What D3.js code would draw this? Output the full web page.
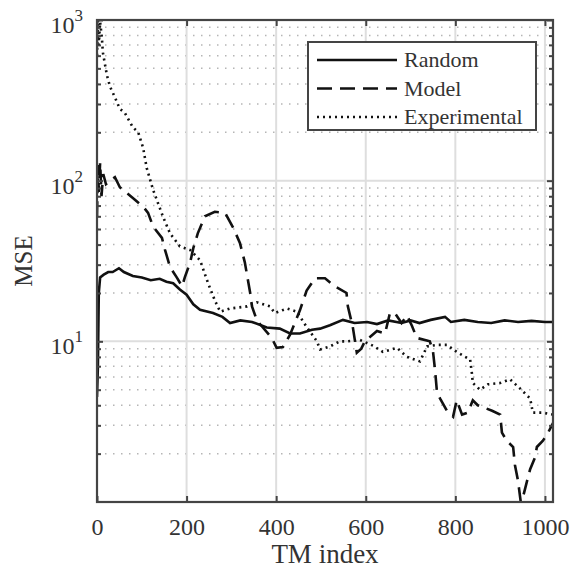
<!DOCTYPE html>
<html>
<head>
<meta charset="utf-8">
<script src="https://cdn.jsdelivr.net/npm/d3@7"></script>
<style>
  body { margin: 0; background: #fff; }
  svg text { font-family: "Liberation Serif", "Times New Roman", serif !important; fill: #333; }
</style>
</head>
<body>
<div id="chart"></div>
<script>
// MSE per TM index
var randomData = [[0,4.5],[2,7],[4,20],[7,25],[15,26],[25,27],[35,27],[49,28.5],[60,27],[80,25.5],[100,25],
  [120,24],[140,24.5],[155,23.5],[170,23],[185,21],[200,19.5],[215,17],[230,15.7],[259,15],[280,14.2],
  [297,13],[320,13.5],[346,13.2],[379,12.2],[408,12],[431,11.2],[453,11.2],[480,11.8],[498,12],[520,12.6],
  [549,13.6],[575,13],[603,13.2],[625,12.8],[650,13.5],[680,13],[700,13.5],[720,13],[745,13.6],[777,14.2],
  [790,13.2],[820,13.6],[850,13.2],[880,13],[910,13.5],[940,13.2],[970,13.4],[1000,13.2],[1018,13.2]];

var modelData = [[0,60],[2,125],[4,85],[7,130],[10,80],[14,110],[20,95],[29,100],[40,105],[51,91],[80,78],
  [103,69],[114,63],[125,52],[145,44],[152,37],[163,29],[178,25],[190,22],[196,25],[208,31],[215,38],
  [225,47],[241,60],[263,64],[286,63],[304,51],[319,41],[330,31],[342,20],[346,16.5],[357,13.5],[390,10.5],
  [401,9.1],[415,9.2],[431,11],[453,15.6],[468,20.7],[487,24.7],[509,24.7],[531,22],[557,20],[560,16.5],
  [571,12.3],[580,8.5],[590,9],[598,10],[625,11.6],[643,11.2],[654,15],[665,15],[680,13],[692,14.5],
  [703,12.5],[714,10.5],[743,10],[750,8.7],[755,6.5],[759,4.8],[766,4.4],[781,3.7],[795,3.4],[803,4.3],
  [815,3.5],[828,3.6],[839,4.3],[850,4],[882,3.7],[900,3.5],[904,2.7],[915,2.4],[929,2.2],[933,1.7],
  [940,1.35],[946,1.0],[952,1.1],[960,1.35],[967,1.6],[978,1.9],[982,2.2],[995,2.4],[1004,2.6],[1018,3.1]];

var experimentalData = [[0,600],[2,1000],[4,700],[7,970],[11,770],[13,630],[22,455],[29,385],[40,330],
  [51,280],[62,265],[80,215],[92,200],[103,160],[111,120],[125,88],[147,60],[163,47],[185,39],[208,37],
  [230,32],[248,23],[263,18],[275,15.3],[297,16],[335,16.5],[357,17.5],[386,16.5],[397,15],[424,16],
  [446,15.3],[468,12.3],[491,10],[498,8.9],[520,9.3],[542,10],[558,10],[587,10.2],[616,9.4],[638,8.6],
  [670,9.1],[692,8.0],[721,7.5],[737,9.3],[759,9.5],[781,9.5],[803,8.6],[833,7.7],[837,6.3],[839,5.5],
  [855,5.0],[873,5.4],[900,5.5],[922,5.8],[944,5.1],[967,4.4],[973,3.6],[995,3.6],[1018,3.5]];

var seriesNames = ["Random", "Model", "Experimental"];
var xTicks = [0, 200, 400, 600, 800, 1000];
var yTicks = [10, 100, 1000];

var width = 571, height = 572;
var margin = {top: 20, right: 18, bottom: 70, left: 97};

var svg = d3.select("#chart").append("svg")
    .attr("width", width)
    .attr("height", height);

var x = d3.scaleLinear().domain([0, 1018]).range([margin.left, width - margin.right]);
var y = d3.scaleLog().domain([1, 1000]).range([height - margin.bottom, margin.top]);

var plotL = x.range()[0], plotR = x.range()[1], plotT = y.range()[1], plotB = y.range()[0];

// minor grid on the log axis
var minors = [];
[1, 10, 100].forEach(function(d){
  for (var k = 2; k <= 9; k++) minors.push(d * k);
});

svg.append("g").selectAll("line")
  .data(minors).enter().append("line")
    .attr("x1", plotL).attr("x2", plotR)
    .attr("y1", function(d){ return y(d); })
    .attr("y2", function(d){ return y(d); })
    .attr("stroke", "#b5b5b5")
    .attr("stroke-width", 1.5)
    .attr("stroke-dasharray", "1.5,6.5");

// major grid
svg.append("g").selectAll("line")
  .data(xTicks.filter(function(d){ return d > 0; })).enter().append("line")
    .attr("x1", function(d){ return x(d); })
    .attr("x2", function(d){ return x(d); })
    .attr("y1", plotT).attr("y2", plotB)
    .attr("stroke", "#dedede")
    .attr("stroke-width", 2);

svg.append("g").selectAll("line")
  .data([10, 100]).enter().append("line")
    .attr("x1", plotL).attr("x2", plotR)
    .attr("y1", function(d){ return y(d); })
    .attr("y2", function(d){ return y(d); })
    .attr("stroke", "#dedede")
    .attr("stroke-width", 2);

// series lines
var line = d3.line()
    .x(function(d){ return x(d[0]); })
    .y(function(d){ return y(d[1]); });

var styles = [
  {data: randomData, dash: null},
  {data: modelData, dash: "15,8"},
  {data: experimentalData, dash: "2,4"}
];

svg.append("clipPath").attr("id", "clip")
  .append("rect")
    .attr("x", plotL).attr("y", plotT)
    .attr("width", plotR - plotL).attr("height", plotB - plotT);

styles.forEach(function(s){
  svg.append("path")
    .datum(s.data)
    .attr("clip-path", "url(#clip)")
    .attr("d", line)
    .attr("fill", "none")
    .attr("stroke", "#111")
    .attr("stroke-width", 2.6)
    .attr("stroke-dasharray", s.dash);
});

// axes: ticks inside
var axisColor = "#444";

var xBottom = svg.append("g")
    .attr("transform", "translate(0," + plotB + ")")
    .call(d3.axisBottom(x).tickValues(xTicks).tickSize(-6).tickPadding(16).tickFormat(d3.format("d")));
svg.append("g")
    .attr("transform", "translate(0," + plotT + ")")
    .call(d3.axisTop(x).tickValues(xTicks).tickSize(-6).tickFormat(""));
svg.append("g")
    .attr("transform", "translate(" + plotL + ",0)")
    .call(d3.axisLeft(y).tickValues(yTicks).tickSize(-6).tickFormat(""));
svg.append("g")
    .attr("transform", "translate(" + plotR + ",0)")
    .call(d3.axisRight(y).tickValues(yTicks).tickSize(-6).tickFormat(""));

// minor ticks left and right
svg.append("g")
    .attr("transform", "translate(" + plotL + ",0)")
    .call(d3.axisLeft(y).tickValues(minors).tickSize(-4).tickFormat(""));
svg.append("g")
    .attr("transform", "translate(" + plotR + ",0)")
    .call(d3.axisRight(y).tickValues(minors).tickSize(-4).tickFormat(""));

svg.selectAll(".domain").remove();
svg.selectAll(".tick line").attr("stroke", axisColor).attr("stroke-width", 2);

xBottom.selectAll("text")
    .style("font-size", "24px")
    .attr("fill", "#333");

// box
svg.append("rect")
    .attr("x", plotL).attr("y", plotT)
    .attr("width", plotR - plotL).attr("height", plotB - plotT)
    .attr("fill", "none")
    .attr("stroke", axisColor)
    .attr("stroke-width", 2.2);

// y tick labels 10^n
var yLab = svg.append("g").selectAll("text")
  .data(yTicks).enter().append("text")
    .attr("x", plotL - 14)
    .attr("y", function(d){ return y(d) + 13; })
    .attr("text-anchor", "end")
    .attr("font-size", 24);
yLab.append("tspan").text("10");
yLab.append("tspan")
    .attr("dy", -12)
    .attr("font-size", 17)
    .text(function(d){ return Math.round(Math.log10(d)); });

// axis titles
svg.append("text")
    .attr("x", (plotL + plotR) / 2)
    .attr("y", 563)
    .attr("text-anchor", "middle")
    .attr("font-size", 27)
    .text("TM index");

svg.append("text")
    .attr("transform", "translate(32," + ((plotT + plotB) / 2) + ") rotate(-90)")
    .attr("text-anchor", "middle")
    .attr("font-size", 25)
    .text("MSE");

// legend
var legend = svg.append("g");
legend.append("rect")
    .attr("x", 308).attr("y", 42)
    .attr("width", 228).attr("height", 88)
    .attr("fill", "#fff")
    .attr("stroke", axisColor)
    .attr("stroke-width", 2);

seriesNames.forEach(function(name, i){
  var ly = 60 + i * 28.5;
  legend.append("line")
    .attr("x1", 317).attr("x2", 397)
    .attr("y1", ly).attr("y2", ly)
    .attr("stroke", "#111")
    .attr("stroke-width", 2.6)
    .attr("stroke-dasharray", styles[i].dash);
  legend.append("text")
    .attr("x", 404)
    .attr("y", ly + 7)
    .attr("font-size", 22)
    .attr("fill", "#222")
    .text(name);
});
</script>
</body>
</html>
